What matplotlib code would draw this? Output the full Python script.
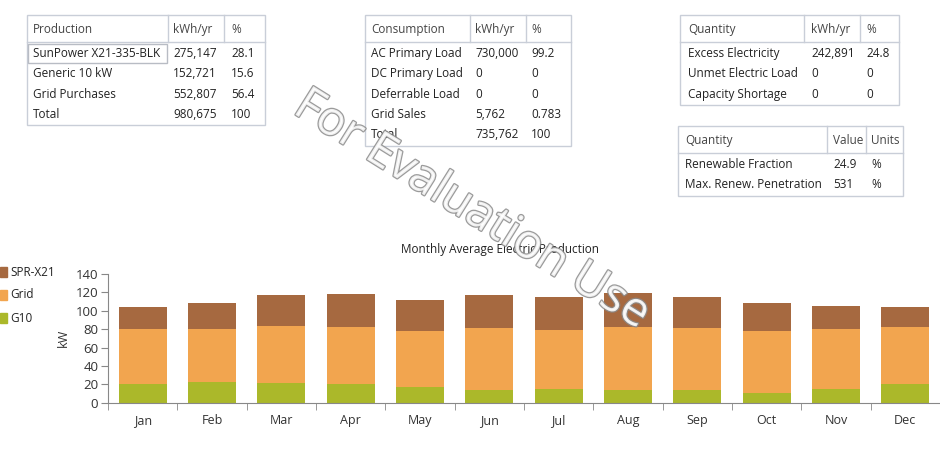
import matplotlib
matplotlib.use("Agg")
import matplotlib.pyplot as plt
import matplotlib.patheffects as pe
from matplotlib.patches import Rectangle
import numpy as np

plt.rcParams["font.family"] = ["Open Sans", "DejaVu Sans"]
plt.rcParams["font.size"] = 8.5

# chart data (kW)
months = ["Jan", "Feb", "Mar", "Apr", "May", "Jun", "Jul", "Aug", "Sep", "Oct", "Nov", "Dec"]
g10 = [20.0, 22.5, 21.8, 20.0, 17.4, 13.8, 14.9, 13.8, 13.8, 10.2, 15.2, 20.3]
grid = [59.8, 57.5, 61.6, 62.0, 60.2, 67.4, 64.1, 68.2, 67.4, 67.4, 64.6, 61.7]
spr = [24.7, 28.0, 33.4, 35.9, 34.4, 35.6, 36.3, 37.0, 34.1, 31.2, 25.7, 22.5]
series_names = ["SPR-X21", "Grid", "G10"]
series_colors = ["#a66940", "#f2a54f", "#abb82a"]

# tables
prod_header = ["Production", "kWh/yr", "%"]
prod_rows = [
    ["SunPower X21-335-BLK", "275,147", "28.1"],
    ["Generic 10 kW", "152,721", "15.6"],
    ["Grid Purchases", "552,807", "56.4"],
    ["Total", "980,675", "100"],
]
cons_header = ["Consumption", "kWh/yr", "%"]
cons_rows = [
    ["AC Primary Load", "730,000", "99.2"],
    ["DC Primary Load", "0", "0"],
    ["Deferrable Load", "0", "0"],
    ["Grid Sales", "5,762", "0.783"],
    ["Total", "735,762", "100"],
]
qty_header = ["Quantity", "kWh/yr", "%"]
qty_rows = [
    ["Excess Electricity", "242,891", "24.8"],
    ["Unmet Electric Load", "0", "0"],
    ["Capacity Shortage", "0", "0"],
]
ren_header = ["Quantity", "Value", "Units"]
ren_rows = [
    ["Renewable Fraction", "24.9", "%"],
    ["Max. Renew. Penetration", "531", "%"],
]

W, H = 940, 450
fig = plt.figure(figsize=(W / 100, H / 100), dpi=100)

# bar chart
ax = fig.add_axes([108 / W, 1 - 402.7 / H, (W - 108) / W, 128.7 / H])
x = np.arange(len(months))
bw = 0.69
ax.bar(x, g10, bw, color=series_colors[2], zorder=2)
ax.bar(x, grid, bw, bottom=g10, color=series_colors[1], zorder=2)
ax.bar(x, spr, bw, bottom=np.array(g10) + np.array(grid), color=series_colors[0], zorder=2)
ax.set_xlim(-0.5, len(months) - 0.5)
ax.set_ylim(0, 140)
ax.set_yticks(range(0, 141, 20))
ax.set_xticks(x)
ax.set_xticklabels(months)
ax.set_xticks(np.arange(len(months) + 1) - 0.5, minor=True)
ax.tick_params(axis="x", which="major", length=0, pad=8, labelsize=9, colors="#333333")
ax.tick_params(axis="x", which="minor", length=5, color="#888888")
ax.tick_params(axis="y", length=5, color="#888888", labelsize=9.5, labelcolor="#333333", pad=2)
for s in ["top", "right"]:
    ax.spines[s].set_visible(False)
for s in ["left", "bottom"]:
    ax.spines[s].set_color("#888888")
ax.set_ylabel("kW", fontsize=9, color="#333333", labelpad=4)

fig.text(500 / W, 1 - 249 / H, "Monthly Average Electric Production", ha="center", va="center",
         fontsize=8.5, color="#222222")

# overlay in pixel coords for tables, legend, watermark
ov = fig.add_axes([0, 0, 1, 1], zorder=5)
ov.set_xlim(0, W)
ov.set_ylim(H, 0)
ov.axis("off")
ov.patch.set_alpha(0)

border = "#c9ced8"


def draw_table(x0, y0, x1, dividers, text_x, header, rows, header_h=27, row_h=20.3):
    y1 = y0 + header_h + row_h * len(rows) + 2
    ov.add_patch(Rectangle((x0, y0), x1 - x0, y1 - y0, fill=False, edgecolor=border, lw=1))
    ov.plot([x0, x1], [y0 + header_h, y0 + header_h], color=border, lw=1)
    for d in dividers:
        ov.plot([d, d], [y0, y0 + header_h], color=border, lw=1)
    for tx, h in zip(text_x, header):
        ov.text(tx, y0 + header_h / 2 + 1, h, ha="left", va="center", fontsize=8.5, color="#444444")
    for i, row in enumerate(rows):
        yy = y0 + header_h + 11.5 + i * row_h
        for tx, v in zip(text_x, row):
            ov.text(tx, yy, v, ha="left", va="center", fontsize=8.5, color="#222222")


draw_table(27, 15, 265, [168, 224], [33, 173, 231], prod_header, prod_rows)
ov.add_patch(Rectangle((28, 44), 139, 19, fill=False, edgecolor="#b8bcc4", lw=1))
draw_table(365, 15, 571, [470, 526], [371, 475, 531], cons_header, cons_rows)
draw_table(680, 15, 899, [804, 860], [688, 811, 866], qty_header, qty_rows)
draw_table(678, 126, 903, [827, 866], [685, 833, 871], ren_header, ren_rows)

# legend
for i, (name, col) in enumerate(zip(series_names, series_colors)):
    yy = 272 + i * 23
    ov.add_patch(Rectangle((0, yy - 5), 7, 10, color=col))
    ov.text(10, yy, name, ha="left", va="center", fontsize=8.5, color="#222222")

# watermark
ov.text(472, 210, "For Evaluation Use", ha="center", va="center", rotation=-32,
        fontsize=34, color="white", alpha=0.85,
        path_effects=[pe.Stroke(linewidth=1.8, foreground="#8a8a8a"), pe.Normal()])

fig.savefig("out.png", dpi=100)
